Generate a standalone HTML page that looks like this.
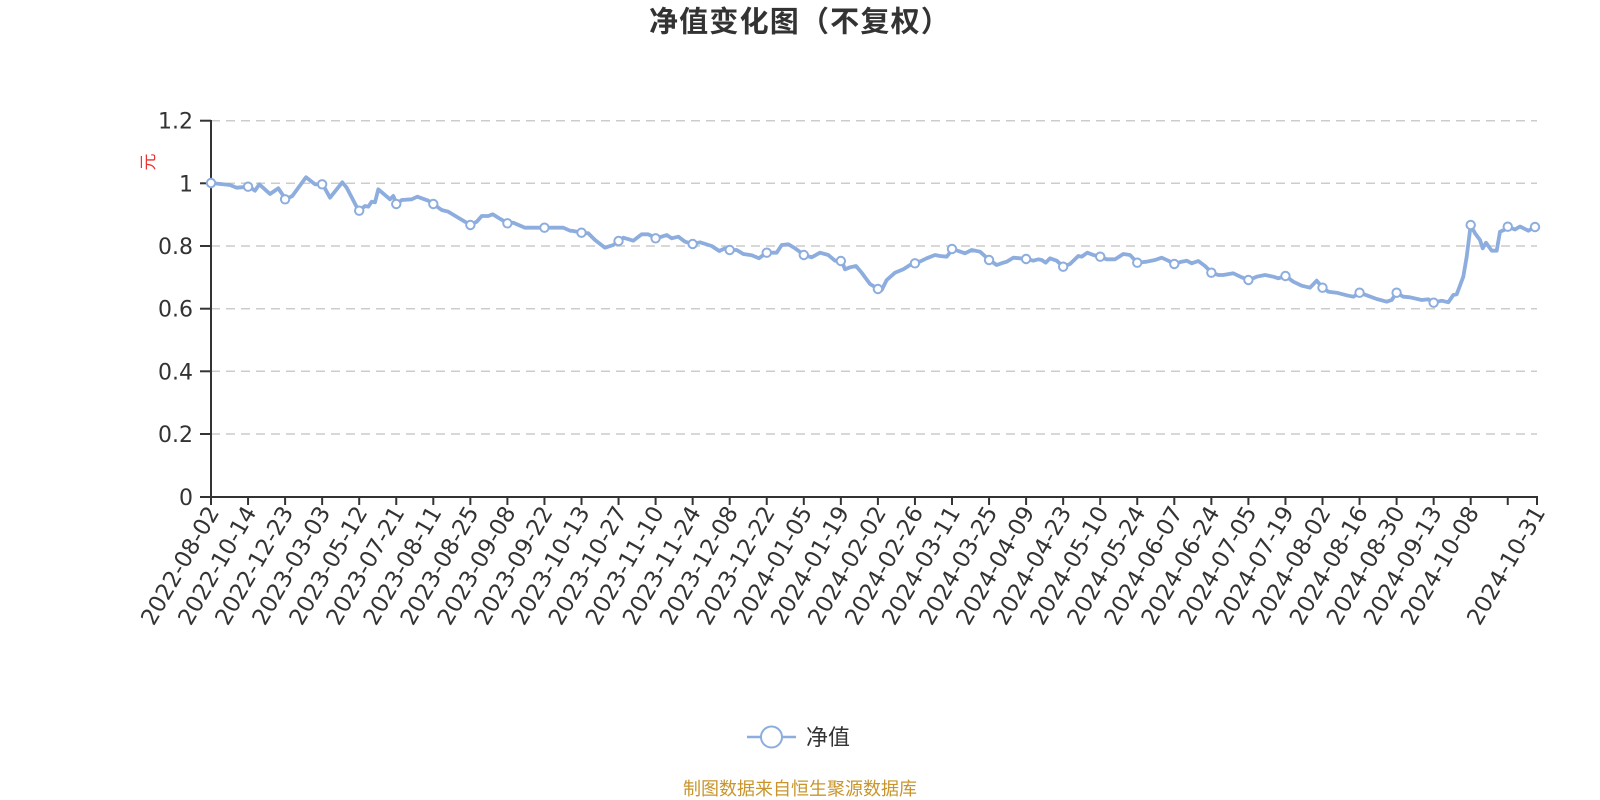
<!DOCTYPE html>
<html>
<head>
<meta charset="utf-8">
<style>
html,body{margin:0;padding:0;background:#fff;}
svg{display:block;}
</style>
</head>
<body>
<svg width="1600" height="800" viewBox="0 0 1600 800" xmlns="http://www.w3.org/2000/svg">
<rect width="1600" height="800" fill="#fff"/>
<!-- title -->
<text x="800" y="31.5" text-anchor="middle" font-family="'Liberation Sans','Noto Sans CJK SC',sans-serif" font-size="29" font-weight="bold" letter-spacing="1.2" fill="#333">净值变化图（不复权）</text>

<!-- grid -->
<g stroke="#cccccc" stroke-width="1.5" stroke-dasharray="9 6" fill="none">
<line x1="211" y1="120.7" x2="1537" y2="120.7"/>
<line x1="211" y1="183.3" x2="1537" y2="183.3"/>
<line x1="211" y1="246" x2="1537" y2="246"/>
<line x1="211" y1="308.7" x2="1537" y2="308.7"/>
<line x1="211" y1="371.3" x2="1537" y2="371.3"/>
<line x1="211" y1="434" x2="1537" y2="434"/>
</g>

<!-- axes -->
<g stroke="#333" stroke-width="2" fill="none">
<line x1="211" y1="120" x2="211" y2="497"/>
<line x1="210" y1="497" x2="1538" y2="497"/>
<line x1="200" y1="120.7" x2="211" y2="120.7"/>
<line x1="200" y1="183.3" x2="211" y2="183.3"/>
<line x1="200" y1="246" x2="211" y2="246"/>
<line x1="200" y1="308.7" x2="211" y2="308.7"/>
<line x1="200" y1="371.3" x2="211" y2="371.3"/>
<line x1="200" y1="434" x2="211" y2="434"/>
<line x1="200" y1="497" x2="211" y2="497"/>
</g>
<g stroke="#333" stroke-width="2">
<line x1="211" y1="497" x2="211" y2="505"/>
<line x1="248.05" y1="497" x2="248.05" y2="505"/>
<line x1="285.1" y1="497" x2="285.1" y2="505"/>
<line x1="322.15" y1="497" x2="322.15" y2="505"/>
<line x1="359.2" y1="497" x2="359.2" y2="505"/>
<line x1="396.25" y1="497" x2="396.25" y2="505"/>
<line x1="433.3" y1="497" x2="433.3" y2="505"/>
<line x1="470.35" y1="497" x2="470.35" y2="505"/>
<line x1="507.4" y1="497" x2="507.4" y2="505"/>
<line x1="544.45" y1="497" x2="544.45" y2="505"/>
<line x1="581.5" y1="497" x2="581.5" y2="505"/>
<line x1="618.55" y1="497" x2="618.55" y2="505"/>
<line x1="655.6" y1="497" x2="655.6" y2="505"/>
<line x1="692.65" y1="497" x2="692.65" y2="505"/>
<line x1="729.7" y1="497" x2="729.7" y2="505"/>
<line x1="766.75" y1="497" x2="766.75" y2="505"/>
<line x1="803.8" y1="497" x2="803.8" y2="505"/>
<line x1="840.85" y1="497" x2="840.85" y2="505"/>
<line x1="877.9" y1="497" x2="877.9" y2="505"/>
<line x1="914.95" y1="497" x2="914.95" y2="505"/>
<line x1="952" y1="497" x2="952" y2="505"/>
<line x1="989.05" y1="497" x2="989.05" y2="505"/>
<line x1="1026.1" y1="497" x2="1026.1" y2="505"/>
<line x1="1063.15" y1="497" x2="1063.15" y2="505"/>
<line x1="1100.2" y1="497" x2="1100.2" y2="505"/>
<line x1="1137.25" y1="497" x2="1137.25" y2="505"/>
<line x1="1174.3" y1="497" x2="1174.3" y2="505"/>
<line x1="1211.35" y1="497" x2="1211.35" y2="505"/>
<line x1="1248.4" y1="497" x2="1248.4" y2="505"/>
<line x1="1285.45" y1="497" x2="1285.45" y2="505"/>
<line x1="1322.5" y1="497" x2="1322.5" y2="505"/>
<line x1="1359.55" y1="497" x2="1359.55" y2="505"/>
<line x1="1396.6" y1="497" x2="1396.6" y2="505"/>
<line x1="1433.65" y1="497" x2="1433.65" y2="505"/>
<line x1="1470.7" y1="497" x2="1470.7" y2="505"/>
<line x1="1507.75" y1="497" x2="1507.75" y2="505"/>
<line x1="1537" y1="497" x2="1537" y2="505"/>
</g>

<!-- y labels -->
<g font-family="'DejaVu Sans',sans-serif" font-size="22" fill="#333" text-anchor="end">
<text x="193" y="128.7">1.2</text>
<text x="193" y="191.3">1</text>
<text x="193" y="254">0.8</text>
<text x="193" y="316.7">0.6</text>
<text x="193" y="379.3">0.4</text>
<text x="193" y="442">0.2</text>
<text x="193" y="505">0</text>
</g>
<text transform="translate(154,162) rotate(-90)" text-anchor="middle" font-family="'Liberation Sans','Noto Sans CJK SC',sans-serif" font-size="17" fill="#ee3333">元</text>

<!-- x labels -->
<g font-family="'DejaVu Sans',sans-serif" font-size="22.8" fill="#333" text-anchor="end">
<text transform="translate(213,508) rotate(-60)" dy="0.35em">2022-08-02</text>
<text transform="translate(250.05,508) rotate(-60)" dy="0.35em">2022-10-14</text>
<text transform="translate(287.1,508) rotate(-60)" dy="0.35em">2022-12-23</text>
<text transform="translate(324.15,508) rotate(-60)" dy="0.35em">2023-03-03</text>
<text transform="translate(361.2,508) rotate(-60)" dy="0.35em">2023-05-12</text>
<text transform="translate(398.25,508) rotate(-60)" dy="0.35em">2023-07-21</text>
<text transform="translate(435.3,508) rotate(-60)" dy="0.35em">2023-08-11</text>
<text transform="translate(472.35,508) rotate(-60)" dy="0.35em">2023-08-25</text>
<text transform="translate(509.4,508) rotate(-60)" dy="0.35em">2023-09-08</text>
<text transform="translate(546.45,508) rotate(-60)" dy="0.35em">2023-09-22</text>
<text transform="translate(583.5,508) rotate(-60)" dy="0.35em">2023-10-13</text>
<text transform="translate(620.55,508) rotate(-60)" dy="0.35em">2023-10-27</text>
<text transform="translate(657.6,508) rotate(-60)" dy="0.35em">2023-11-10</text>
<text transform="translate(694.65,508) rotate(-60)" dy="0.35em">2023-11-24</text>
<text transform="translate(731.7,508) rotate(-60)" dy="0.35em">2023-12-08</text>
<text transform="translate(768.75,508) rotate(-60)" dy="0.35em">2023-12-22</text>
<text transform="translate(805.8,508) rotate(-60)" dy="0.35em">2024-01-05</text>
<text transform="translate(842.85,508) rotate(-60)" dy="0.35em">2024-01-19</text>
<text transform="translate(879.9,508) rotate(-60)" dy="0.35em">2024-02-02</text>
<text transform="translate(916.95,508) rotate(-60)" dy="0.35em">2024-02-26</text>
<text transform="translate(954,508) rotate(-60)" dy="0.35em">2024-03-11</text>
<text transform="translate(991.05,508) rotate(-60)" dy="0.35em">2024-03-25</text>
<text transform="translate(1028.1,508) rotate(-60)" dy="0.35em">2024-04-09</text>
<text transform="translate(1065.15,508) rotate(-60)" dy="0.35em">2024-04-23</text>
<text transform="translate(1102.2,508) rotate(-60)" dy="0.35em">2024-05-10</text>
<text transform="translate(1139.25,508) rotate(-60)" dy="0.35em">2024-05-24</text>
<text transform="translate(1176.3,508) rotate(-60)" dy="0.35em">2024-06-07</text>
<text transform="translate(1213.35,508) rotate(-60)" dy="0.35em">2024-06-24</text>
<text transform="translate(1250.4,508) rotate(-60)" dy="0.35em">2024-07-05</text>
<text transform="translate(1287.45,508) rotate(-60)" dy="0.35em">2024-07-19</text>
<text transform="translate(1324.5,508) rotate(-60)" dy="0.35em">2024-08-02</text>
<text transform="translate(1361.55,508) rotate(-60)" dy="0.35em">2024-08-16</text>
<text transform="translate(1398.6,508) rotate(-60)" dy="0.35em">2024-08-30</text>
<text transform="translate(1435.65,508) rotate(-60)" dy="0.35em">2024-09-13</text>
<text transform="translate(1472.7,508) rotate(-60)" dy="0.35em">2024-10-08</text>
<text transform="translate(1539,508) rotate(-60)" dy="0.35em">2024-10-31</text>
</g>

<!-- series -->
<polyline fill="none" stroke="#8cadde" stroke-width="3.8" stroke-linejoin="round" stroke-linecap="round" points="
211,183 230,185 236.7,187.7 249,186.7 255,190.7 259.3,184.3 270,194 278.3,188.3 285.7,199.3 292.3,196 306,177.3 315,184.3 322.7,184.3 330,197.7 336.7,189.3 342.3,182.3 346.7,187.7 358.3,210 359.3,210.7 365,206 368.3,206.7 371.7,201.7 375,202.3 378.3,189.3 390,199.3 393.3,196 396.7,204 401.7,200 411.7,199.3 417.3,196.7 428.3,200.7 433.3,204 441.7,210 448.3,211.7 458.3,217.7 465,221.7 470.7,225 476.7,221.7 481.7,216 488.3,216 492.7,214.3 498.3,217.7 507.7,223.3 513.3,222.7 525,227.7 533.3,227.7 545,227.7 553.3,227.7 563.3,227.7 570,230.7 573.3,231 581.7,232.7 588.3,233.3 595,240 605,247.7 613.3,245 619,241 623.3,237.7 633.3,240.7 641.7,234.3 648.3,234.3 656,238.3 661.7,236.7 666.7,235 671.7,238.3 678.3,236.7 685,241.7 692.7,244 700,242.3 711.7,246 719.3,251 725,248.3 730,250 736.7,250 743.3,254 751.7,255.3 759,258.3 763.3,255 767.3,252.7 776.7,252.7 781.7,245 788.3,244.3 795,248.3 804.3,255 811.7,257.3 820,252.7 828.3,255 835,260.7 841.7,261 845,269.3 850,267.3 856,266 861.7,272.7 870,284 878.3,289 881.7,290 886.7,280 895,272.7 903.3,269.3 910,265 915.7,263.3 921.7,260.7 926.7,258.3 935,255 940,256 946.7,256.7 952.7,249 965,253.3 971.7,250 980,251.7 989.3,260 996.7,265 1003.3,262.7 1006.7,261.7 1013.3,257.7 1020,258.3 1027.3,259 1033.3,260.7 1038.3,259.3 1041.7,260 1045.7,262.7 1050,258.3 1056.7,260.7 1063.3,266.7 1070,264 1078.3,256 1081.7,256.7 1087.3,252.7 1093.3,255 1100,256.7 1106.7,259.3 1115,259.3 1123.3,254 1130,255 1137.3,262.7 1146.7,261.7 1155,260 1161.7,257.7 1168.3,260.7 1174.3,264 1181.7,261.7 1186.7,260.7 1191.7,263.3 1198.3,261 1205,266 1211.7,272.7 1218.3,275 1223.3,275 1233.3,273.3 1241.7,277.3 1249,280 1256.7,276.7 1265,275 1273.3,276.7 1278.3,278.3 1285.7,276 1293.3,281.7 1301.7,285.7 1310,287.7 1316.7,280.7 1322.7,287.7 1328.3,291.7 1336.7,292.7 1346.7,295.3 1353.3,296.7 1360,292.7 1366.7,295.3 1376.7,299 1386.7,301.7 1391.7,300 1396.7,292.7 1403.3,296.7 1410,297.3 1421.7,300 1428.3,299.3 1433.3,302.7 1441.7,300.7 1448.3,302.3 1453.3,295 1456.7,294.3 1463.3,276.7 1466.7,256.7 1470.7,225 1475,233.3 1480,240 1482.7,248.3 1486,242.7 1491.7,250.7 1496.7,250.7 1500,231.7 1504,230 1507.7,226.7 1515,229.5 1520,226.5 1528.3,230.7 1535,227"/>

<!-- markers -->
<g fill="#fff" stroke="#8cadde" stroke-width="2">
<circle cx="211" cy="183" r="4.2"/>
<circle cx="248.05" cy="186.7" r="4.2"/>
<circle cx="285.1" cy="199.3" r="4.2"/>
<circle cx="322.15" cy="184.3" r="4.2"/>
<circle cx="359.2" cy="210.7" r="4.2"/>
<circle cx="396.25" cy="204" r="4.2"/>
<circle cx="433.3" cy="204" r="4.2"/>
<circle cx="470.35" cy="225" r="4.2"/>
<circle cx="507.4" cy="223.3" r="4.2"/>
<circle cx="544.45" cy="227.7" r="4.2"/>
<circle cx="581.5" cy="232.7" r="4.2"/>
<circle cx="618.55" cy="241" r="4.2"/>
<circle cx="655.6" cy="238.3" r="4.2"/>
<circle cx="692.65" cy="244" r="4.2"/>
<circle cx="729.7" cy="250" r="4.2"/>
<circle cx="766.75" cy="252.7" r="4.2"/>
<circle cx="803.8" cy="255" r="4.2"/>
<circle cx="840.85" cy="261" r="4.2"/>
<circle cx="877.9" cy="289" r="4.2"/>
<circle cx="914.95" cy="263.3" r="4.2"/>
<circle cx="952" cy="249" r="4.2"/>
<circle cx="989.05" cy="260" r="4.2"/>
<circle cx="1026.1" cy="259" r="4.2"/>
<circle cx="1063.15" cy="266.7" r="4.2"/>
<circle cx="1100.2" cy="256.7" r="4.2"/>
<circle cx="1137.25" cy="262.7" r="4.2"/>
<circle cx="1174.3" cy="264" r="4.2"/>
<circle cx="1211.35" cy="272.7" r="4.2"/>
<circle cx="1248.4" cy="280" r="4.2"/>
<circle cx="1285.45" cy="276" r="4.2"/>
<circle cx="1322.5" cy="287.7" r="4.2"/>
<circle cx="1359.55" cy="292.7" r="4.2"/>
<circle cx="1396.6" cy="292.7" r="4.2"/>
<circle cx="1433.65" cy="302.7" r="4.2"/>
<circle cx="1470.7" cy="225" r="4.2"/>
<circle cx="1507.75" cy="226.7" r="4.2"/>
<circle cx="1535" cy="227" r="4.2"/>
</g>

<!-- legend -->
<line x1="747" y1="737" x2="796" y2="737" stroke="#8cadde" stroke-width="2.5"/>
<circle cx="771.5" cy="737" r="10.5" fill="#fff" stroke="#8cadde" stroke-width="2"/>
<text x="806" y="745" font-family="'Liberation Sans','Noto Sans CJK SC',sans-serif" font-size="22" fill="#333">净值</text>

<!-- footer -->
<text x="800" y="795" text-anchor="middle" font-family="'Liberation Sans','Noto Sans CJK SC',sans-serif" font-size="18" fill="#c9952b">制图数据来自恒生聚源数据库</text>
</svg>
</body>
</html>
